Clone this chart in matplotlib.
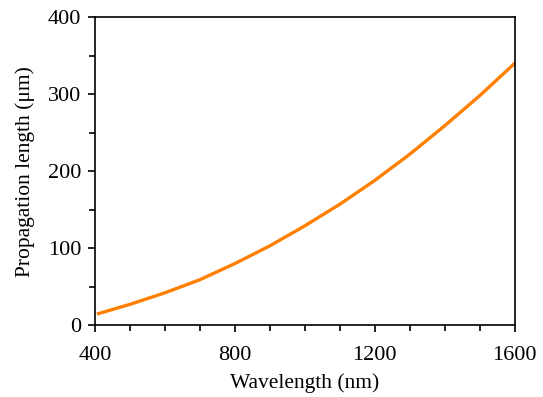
import matplotlib.pyplot as plt
from matplotlib.ticker import MultipleLocator

plt.rcParams['font.family'] = ['Liberation Serif', 'DejaVu Serif']

wavelength = [410, 500, 600, 700, 800, 900, 1000, 1100, 1200, 1300, 1400, 1500, 1600]
prop_length = [15, 27, 42, 59, 80, 103, 129, 157, 188, 222, 259, 298, 340]

fig = plt.figure(figsize=(5.43, 3.97), dpi=100)
ax = fig.add_axes([0.175, 0.181, 0.773, 0.776])

ax.plot(wavelength, prop_length, color='#ff8000', lw=2.4)

ax.set_xlim(400, 1600)
ax.set_ylim(0, 400)
ax.xaxis.set_major_locator(MultipleLocator(400))
ax.xaxis.set_minor_locator(MultipleLocator(100))
ax.yaxis.set_major_locator(MultipleLocator(100))
ax.yaxis.set_minor_locator(MultipleLocator(50))
ax.tick_params(which='both', direction='out', width=1.2, labelsize=16)
ax.tick_params(which='major', length=5)
ax.tick_params(which='minor', length=4)
ax.tick_params(axis='x', pad=10)
ax.tick_params(axis='y', pad=5)
for s in ax.spines.values():
    s.set_linewidth(1.2)

ax.set_xlabel('Wavelength (nm)', fontsize=15.5, labelpad=6)
ax.set_ylabel('Propagation length (μm)', fontsize=15.5, labelpad=9)

fig.savefig('out.png', dpi=100)
